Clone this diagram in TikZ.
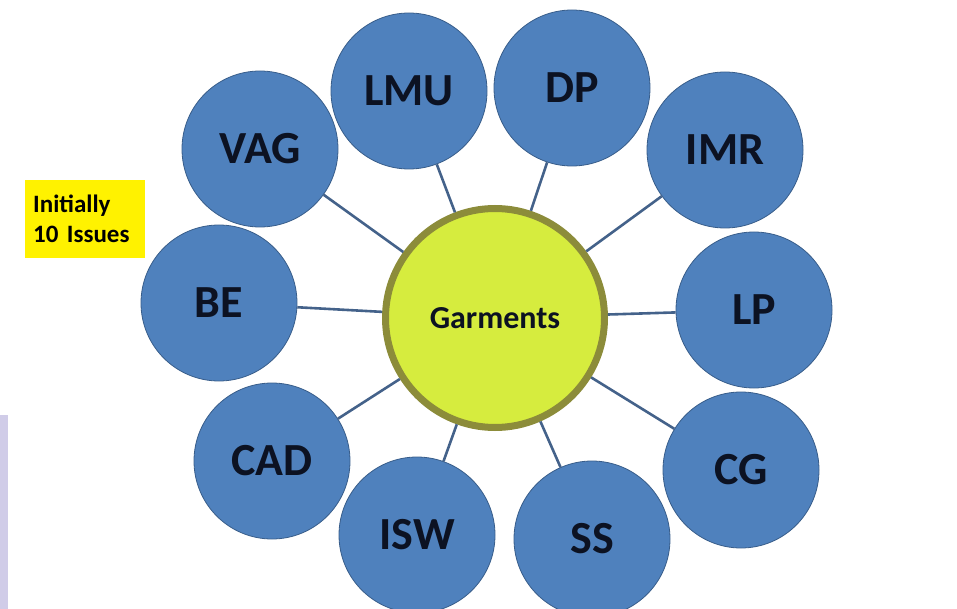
\documentclass[tikz,border=0pt]{standalone}
\usepackage{fontspec}
\setmainfont{Carlito}

\definecolor{issueblue}{RGB}{79,129,189}
\definecolor{issueline}{RGB}{56,93,138}
\definecolor{spokeblue}{RGB}{68,98,138}
\definecolor{hubfill}{RGB}{214,236,62}
\definecolor{hubedge}{RGB}{140,140,58}
\definecolor{labeltext}{RGB}{12,18,34}
\definecolor{sidebar}{RGB}{208,204,232}

\begin{document}
\begin{tikzpicture}
		[x=1pt,y=-1pt,
		 issue/.style= {circle,minimum size=156pt,inner sep=0pt,fill=issueblue,draw=issueline,line width=0.8pt,
		                text=labeltext,font=\fontsize{46}{50}\selectfont\bfseries},
		 hub/.style= {circle,minimum size=219pt,inner sep=0pt,fill=hubfill,draw=hubedge,line width=7pt,
		              text=labeltext,font=\fontsize{32}{36}\selectfont\bfseries},
		 spoke/.style= {draw=spokeblue,line width=2.6pt},
		 note/.style= {anchor=north west,fill=yellow,minimum width=120pt,minimum height=78pt,
		               text width=104pt,inner xsep=8pt,align=left,font=\fontsize{25}{30}\selectfont\bfseries}]
		
		\useasboundingbox (0,0) rectangle (957,609);
		\fill[sidebar] (0,415) rectangle (8,609);
		
		\node[note] (start) at (25,180) {Initially\\10 Issues};
		
		% ring of issues round the hub
		\node[issue] (vag) at (260,149) {VAG};
		\node[issue] (lmu) at (409, 91) {LMU};
		\node[issue] (dp)  at (572, 88) {DP};
		\node[issue] (imr) at (725,150) {IMR};
		\node[issue] (lp)  at (754,310) {LP};
		\node[issue] (cg)  at (741,470) {CG};
		\node[issue] (ss)  at (592,539) {SS};
		\node[issue] (isw) at (417,535) {ISW};
		\node[issue] (cad) at (272,461) {CAD};
		\node[issue] (be)  at (219,303) {BE};
		
		\node[hub] (garm) at (495,318) {Garments}
			edge[spoke] (vag)
			edge[spoke] (lmu)
			edge[spoke] (dp)
			edge[spoke] (imr)
			edge[spoke] (lp)
			edge[spoke] (cg)
			edge[spoke] (ss)
			edge[spoke] (isw)
			edge[spoke] (cad)
			edge[spoke] (be)
		;
		
	\end{tikzpicture}
\end{document}
